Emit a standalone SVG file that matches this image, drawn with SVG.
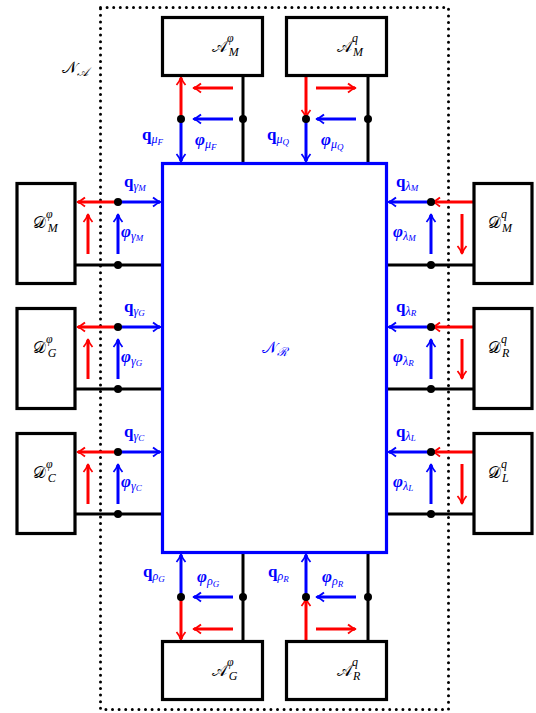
<svg xmlns="http://www.w3.org/2000/svg" width="536" height="713" viewBox="0 0 536 713">
<defs>
<style>
.box{fill:#fff;stroke:#000;stroke-width:3.2}
.k{stroke:#000;stroke-width:3;fill:none}
.ra{stroke:#f00;stroke-width:3;fill:none;marker-end:url(#mr)}
.ba{stroke:#00f;stroke-width:3;fill:none;marker-end:url(#mb)}
.dot{fill:#000}
.t{font-family:"DejaVu Serif","Liberation Serif",serif;font-size:16px;fill:#000}
.tb{font-family:"DejaVu Serif","Liberation Serif",serif;font-size:16px;fill:#00f}
.q{font-family:"Liberation Serif",serif;font-weight:bold;font-size:17px}
.ph{font-family:"Liberation Serif",serif;font-weight:bold;font-style:italic;font-size:17px}
.s{font-family:"Liberation Serif",serif;font-style:italic;font-size:12px}
.ss{font-family:"Liberation Serif",serif;font-style:italic;font-size:9px}
.lab{fill:#00f}
</style>
<marker id="mr" viewBox="-10 -10 20 20" markerWidth="20" markerHeight="20" refX="0" refY="0" orient="auto" markerUnits="userSpaceOnUse">
<path d="M-7,-4.5 Q-3,-1 1,0 Q-3,1 -7,4.5" fill="none" stroke="#f00" stroke-width="1.8"/>
</marker>
<marker id="mb" viewBox="-10 -10 20 20" markerWidth="20" markerHeight="20" refX="0" refY="0" orient="auto" markerUnits="userSpaceOnUse">
<path d="M-7,-4.5 Q-3,-1 1,0 Q-3,1 -7,4.5" fill="none" stroke="#00f" stroke-width="1.8"/>
</marker>
</defs>

<g id="boundary">
<rect x="100.5" y="7.5" width="348" height="702" fill="none" stroke="#000" stroke-width="3" stroke-linecap="round" stroke-dasharray="0 6.6"/>
<text class="t" x="62" y="73">𝒩<tspan class="s" font-size="11" dy="3">𝒜</tspan></text>
</g>

<g id="connectors">
<path class="k" d="M243,76 V163"/>
<path class="ra" d="M181,119 V78"/>
<path class="ba" d="M181,119 V161"/>
<path class="ra" d="M233,88 H194"/>
<path class="ba" d="M233,119 H194"/>
<path class="k" d="M368,76 V163"/>
<path class="ra" d="M306,76 V117"/>
<path class="ba" d="M306,119 V161"/>
<path class="ra" d="M316,88 H355"/>
<path class="ba" d="M356,119 H317"/>
<path class="k" d="M243,553 V641"/>
<path class="ba" d="M181,597 V555"/>
<path class="ra" d="M181,597 V639"/>
<path class="ba" d="M233,597 H194"/>
<path class="ra" d="M233,629 H194"/>
<path class="k" d="M368,553 V641"/>
<path class="ba" d="M306,597 V555"/>
<path class="ra" d="M306,641 V599"/>
<path class="ba" d="M356,597 H317"/>
<path class="ra" d="M316,629 H355"/>

<path class="k" d="M76,265 H162"/>
<path class="ra" d="M118,202 H78"/>
<path class="ba" d="M118,202 H160"/>
<path class="ra" d="M88,254 V215"/>
<path class="ba" d="M118,254 V215"/>
<path class="k" d="M76,389 H162"/>
<path class="ra" d="M118,327 H78"/>
<path class="ba" d="M118,327 H160"/>
<path class="ra" d="M88,379 V340"/>
<path class="ba" d="M118,379 V340"/>
<path class="k" d="M76,514 H162"/>
<path class="ra" d="M118,452 H78"/>
<path class="ba" d="M118,452 H160"/>
<path class="ra" d="M88,504 V465"/>
<path class="ba" d="M118,504 V465"/>

<path class="k" d="M387,265 H473"/>
<path class="ra" d="M473,202 H433"/>
<path class="ba" d="M431,202 H389"/>
<path class="ra" d="M462,214 V253"/>
<path class="ba" d="M431,254 V215"/>
<path class="k" d="M387,389 H473"/>
<path class="ra" d="M473,327 H433"/>
<path class="ba" d="M431,327 H389"/>
<path class="ra" d="M462,339 V378"/>
<path class="ba" d="M431,379 V340"/>
<path class="k" d="M387,514 H473"/>
<path class="ra" d="M473,452 H433"/>
<path class="ba" d="M431,452 H389"/>
<path class="ra" d="M462,464 V503"/>
<path class="ba" d="M431,504 V465"/>

<circle class="dot" cx="181" cy="119" r="4"/>
<circle class="dot" cx="243" cy="119" r="4"/>
<circle class="dot" cx="306" cy="119" r="4"/>
<circle class="dot" cx="368" cy="119" r="4"/>
<circle class="dot" cx="181" cy="597" r="4"/>
<circle class="dot" cx="243" cy="597" r="4"/>
<circle class="dot" cx="306" cy="597" r="4"/>
<circle class="dot" cx="368" cy="597" r="4"/>
<circle class="dot" cx="118" cy="202" r="4"/>
<circle class="dot" cx="118" cy="265" r="4"/>
<circle class="dot" cx="118" cy="327" r="4"/>
<circle class="dot" cx="118" cy="389" r="4"/>
<circle class="dot" cx="118" cy="452" r="4"/>
<circle class="dot" cx="118" cy="514" r="4"/>
<circle class="dot" cx="431" cy="202" r="4"/>
<circle class="dot" cx="431" cy="265" r="4"/>
<circle class="dot" cx="431" cy="327" r="4"/>
<circle class="dot" cx="431" cy="389" r="4"/>
<circle class="dot" cx="431" cy="452" r="4"/>
<circle class="dot" cx="431" cy="514" r="4"/>

<g class="lab">
<text x="142" y="140"><tspan class="q">q</tspan><tspan class="s" dy="3">μ</tspan><tspan class="ss" dy="2">F</tspan></text>
<text x="195" y="145"><tspan class="ph">φ</tspan><tspan class="s" dy="3">μ</tspan><tspan class="ss" dy="2">F</tspan></text>
<text x="267" y="140"><tspan class="q">q</tspan><tspan class="s" dy="3">μ</tspan><tspan class="ss" dy="2">Q</tspan></text>
<text x="321" y="145"><tspan class="ph">φ</tspan><tspan class="s" dy="3">μ</tspan><tspan class="ss" dy="2">Q</tspan></text>
<text x="143" y="577"><tspan class="q">q</tspan><tspan class="s" dy="3">ρ</tspan><tspan class="ss" dy="2">G</tspan></text>
<text x="197" y="582"><tspan class="ph">φ</tspan><tspan class="s" dy="3">ρ</tspan><tspan class="ss" dy="2">G</tspan></text>
<text x="268" y="577"><tspan class="q">q</tspan><tspan class="s" dy="3">ρ</tspan><tspan class="ss" dy="2">R</tspan></text>
<text x="322" y="582"><tspan class="ph">φ</tspan><tspan class="s" dy="3">ρ</tspan><tspan class="ss" dy="2">R</tspan></text>
<text x="124" y="187"><tspan class="q">q</tspan><tspan class="s" dy="3">γ</tspan><tspan class="ss" dy="1">M</tspan></text>
<text x="121" y="237"><tspan class="ph">φ</tspan><tspan class="s" dy="3">γ</tspan><tspan class="ss" dy="1">M</tspan></text>
<text x="124" y="312"><tspan class="q">q</tspan><tspan class="s" dy="3">γ</tspan><tspan class="ss" dy="1">G</tspan></text>
<text x="121" y="362"><tspan class="ph">φ</tspan><tspan class="s" dy="3">γ</tspan><tspan class="ss" dy="1">G</tspan></text>
<text x="124" y="437"><tspan class="q">q</tspan><tspan class="s" dy="3">γ</tspan><tspan class="ss" dy="1">C</tspan></text>
<text x="121" y="487"><tspan class="ph">φ</tspan><tspan class="s" dy="3">γ</tspan><tspan class="ss" dy="1">C</tspan></text>
<text x="396" y="187"><tspan class="q">q</tspan><tspan class="s" dy="3">λ</tspan><tspan class="ss" dy="1">M</tspan></text>
<text x="393" y="237"><tspan class="ph">φ</tspan><tspan class="s" dy="3">λ</tspan><tspan class="ss" dy="1">M</tspan></text>
<text x="396" y="312"><tspan class="q">q</tspan><tspan class="s" dy="3">λ</tspan><tspan class="ss" dy="1">R</tspan></text>
<text x="393" y="362"><tspan class="ph">φ</tspan><tspan class="s" dy="3">λ</tspan><tspan class="ss" dy="1">R</tspan></text>
<text x="396" y="437"><tspan class="q">q</tspan><tspan class="s" dy="3">λ</tspan><tspan class="ss" dy="1">L</tspan></text>
<text x="393" y="487"><tspan class="ph">φ</tspan><tspan class="s" dy="3">λ</tspan><tspan class="ss" dy="1">L</tspan></text>
</g>
</g>

<g id="NR">
<rect x="162.5" y="163.5" width="224" height="389" fill="none" stroke="#00f" stroke-width="3.2"/>
<text class="tb" x="262" y="353">𝒩<tspan class="s" font-size="11" dy="3">ℛ</tspan></text>
</g>

<g id="A_M_phi">
<rect class="box" x="162.5" y="17.5" width="100" height="58"/>
<text class="t" x="212" y="52">𝒜<tspan class="s" font-size="10" dy="-10">φ</tspan><tspan class="s" font-size="10" dx="-5" dy="14">M</tspan></text>
</g>
<g id="A_M_q">
<rect class="box" x="286.5" y="17.5" width="100" height="58"/>
<text class="t" x="337" y="52">𝒜<tspan class="s" font-size="10" dy="-10">q</tspan><tspan class="s" font-size="10" dx="-5" dy="14">M</tspan></text>
</g>
<g id="A_G_phi">
<rect class="box" x="162.5" y="641.5" width="100" height="58"/>
<text class="t" x="212" y="676">𝒜<tspan class="s" font-size="10" dy="-10">φ</tspan><tspan class="s" font-size="10" dx="-5" dy="14">G</tspan></text>
</g>
<g id="A_R_q">
<rect class="box" x="286.5" y="641.5" width="100" height="58"/>
<text class="t" x="337" y="676">𝒜<tspan class="s" font-size="10" dy="-10">q</tspan><tspan class="s" font-size="10" dx="-5" dy="14">R</tspan></text>
</g>

<g id="D_M_phi">
<rect class="box" x="17" y="183.5" width="58" height="100"/>
<text class="t" x="33" y="228">𝒟<tspan class="s" font-size="10" dy="-10">φ</tspan><tspan class="s" font-size="10" dx="-5" dy="14">M</tspan></text>
</g>
<g id="D_G_phi">
<rect class="box" x="17" y="308.5" width="58" height="100"/>
<text class="t" x="33" y="353">𝒟<tspan class="s" font-size="10" dy="-10">φ</tspan><tspan class="s" font-size="10" dx="-5" dy="14">G</tspan></text>
</g>
<g id="D_C_phi">
<rect class="box" x="17" y="433.5" width="58" height="100"/>
<text class="t" x="33" y="478">𝒟<tspan class="s" font-size="10" dy="-10">φ</tspan><tspan class="s" font-size="10" dx="-5" dy="14">C</tspan></text>
</g>
<g id="D_M_q">
<rect class="box" x="474" y="183.5" width="58" height="100"/>
<text class="t" x="488" y="228">𝒟<tspan class="s" font-size="10" dy="-10">q</tspan><tspan class="s" font-size="10" dx="-5" dy="14">M</tspan></text>
</g>
<g id="D_R_q">
<rect class="box" x="474" y="308.5" width="58" height="100"/>
<text class="t" x="488" y="353">𝒟<tspan class="s" font-size="10" dy="-10">q</tspan><tspan class="s" font-size="10" dx="-5" dy="14">R</tspan></text>
</g>
<g id="D_L_q">
<rect class="box" x="474" y="433.5" width="58" height="100"/>
<text class="t" x="488" y="478">𝒟<tspan class="s" font-size="10" dy="-10">q</tspan><tspan class="s" font-size="10" dx="-5" dy="14">L</tspan></text>
</g>
</svg>
